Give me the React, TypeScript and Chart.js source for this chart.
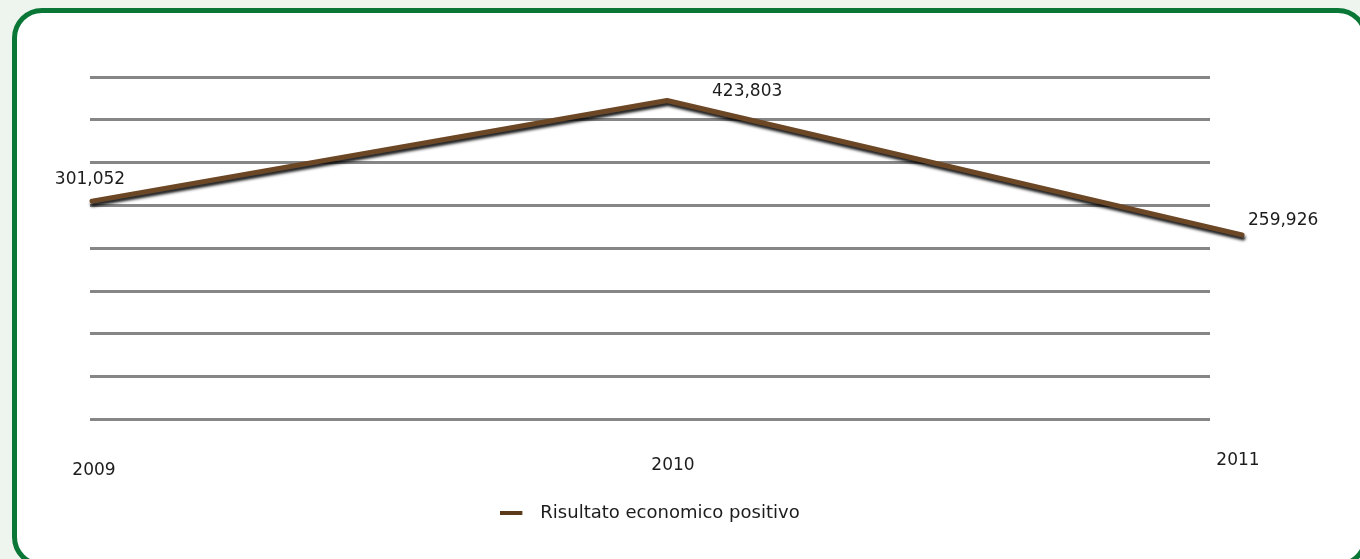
import React, { useEffect, useRef } from "react";
import { Chart, registerables } from "chart.js";

Chart.register(...registerables);

// ---- data ----
const years = [2009, 2010, 2011];
const values = [301052, 423803, 259926];
const valueLabels = ["301,052", "423,803", "259,926"];
const yearLabels = ["2009", "2010", "2011"];
const seriesName = "Risultato economico positivo";

// ---- style ----
const FONT = "'DejaVu Sans', 'Noto Sans', sans-serif";
const TEXT = "#1c1c1c";
const LINE_COLOR = "#6c4725";
const GRID_COLOR = "#868686";
const BORDER_GREEN = "#0b7737";
// label offsets relative to the point: [dx, dy, align]
const valueLabelStyle: [number, number, CanvasTextAlign][] = [
  [-2, -22, "center"],
  [45, -9, "left"],
  [6, -14, "left"],
];
const yearLabelDy = [51, 46, 41];
const yearLabelDx = [2, 6, -4];

const overlayPlugin = {
  id: "overlay",
  beforeDatasetDraw(chart: any) {
    const ctx = chart.ctx;
    ctx.save();
    ctx.shadowColor = "rgba(0,0,0,0.9)";
    ctx.shadowBlur = 3;
    ctx.shadowOffsetX = 1;
    ctx.shadowOffsetY = 3;
  },
  afterDatasetDraw(chart: any) {
    chart.ctx.restore();
  },
  afterDraw(chart: any) {
    const ctx = chart.ctx;
    const meta = chart.getDatasetMeta(0);
    const xScale = chart.scales.x;
    ctx.save();
    ctx.fillStyle = TEXT;
    ctx.font = `17px ${FONT}`;
    ctx.textBaseline = "middle";
    meta.data.forEach((pt: any, i: number) => {
      const [dx, dy, align] = valueLabelStyle[i];
      ctx.textAlign = align;
      ctx.fillText(valueLabels[i], pt.x + dx, pt.y + dy);
    });
    ctx.textAlign = "center";
    years.forEach((yr, i) => {
      const x = xScale.getPixelForValue(yr);
      ctx.fillText(yearLabels[i], x + yearLabelDx[i], chart.chartArea.bottom + yearLabelDy[i]);
    });
    ctx.restore();
  },
};

export default function App() {
  const ref = useRef<HTMLCanvasElement | null>(null);

  useEffect(() => {
    if (!ref.current) return;
    const marker = document.createElement("canvas");
    marker.width = 31;
    marker.height = 4;
    const mctx = marker.getContext("2d")!;
    mctx.fillStyle = "#5b3a19";
    mctx.fillRect(0, 0, 22, 4);

    const chart = new Chart(ref.current, {
      type: "line",
      data: {
        datasets: [
          {
            label: seriesName,
            data: years.map((y, i) => ({ x: y, y: values[i] })),
            borderColor: LINE_COLOR,
            backgroundColor: "#5b3a19",
            borderWidth: 5,
            pointRadius: 0,
            tension: 0,
            clip: false as any,
            borderCapStyle: "round",
            borderJoinStyle: "round",
          },
        ],
      },
      options: {
        animation: false,
        responsive: false,
        devicePixelRatio: 1,
        layout: { padding: { left: 90, right: 150, top: 77, bottom: 27 } },
        scales: {
          x: {
            type: "linear",
            min: 2008.99652,
            max: 2010.94435,
            grid: { display: false, drawTicks: false },
            border: { display: false },
            afterBuildTicks: (s: any) => {
              s.ticks = years.map((v) => ({ value: v }));
            },
            ticks: {
              color: "rgba(0,0,0,0)",
              padding: 27,
              maxRotation: 0,
              minRotation: 0,
              autoSkip: false,
              font: { size: 17, family: FONT },
            },
          },
          y: {
            min: 34500,
            max: 452500,
            ticks: { display: false, stepSize: 52250 },
            grid: { color: GRID_COLOR, lineWidth: 3, drawTicks: false },
            border: { display: false },
          },
        },
        plugins: {
          tooltip: { enabled: false },
          legend: {
            position: "bottom",
            labels: {
              usePointStyle: true,
              pointStyle: marker as any,
              pointStyleWidth: 31,
              color: TEXT,
              font: { size: 18, family: FONT },
              padding: 10,
            },
          },
        },
      },
      plugins: [overlayPlugin],
    });
    return () => chart.destroy();
  }, []);

  return (
    <div style={{ position: "absolute", left: 0, top: 0, width: 1360, height: 559, overflow: "hidden", background: "#eef4ee" }}>
      <div
        style={{
          position: "absolute",
          left: 12,
          top: 8,
          width: 1356,
          height: 559,
          boxSizing: "border-box",
          border: `5px solid ${BORDER_GREEN}`,
          borderRadius: 30,
          background: "#ffffff",
        }}
      />
      <canvas ref={ref} width={1360} height={559} style={{ position: "absolute", left: 0, top: 0 }} />
    </div>
  );
}
